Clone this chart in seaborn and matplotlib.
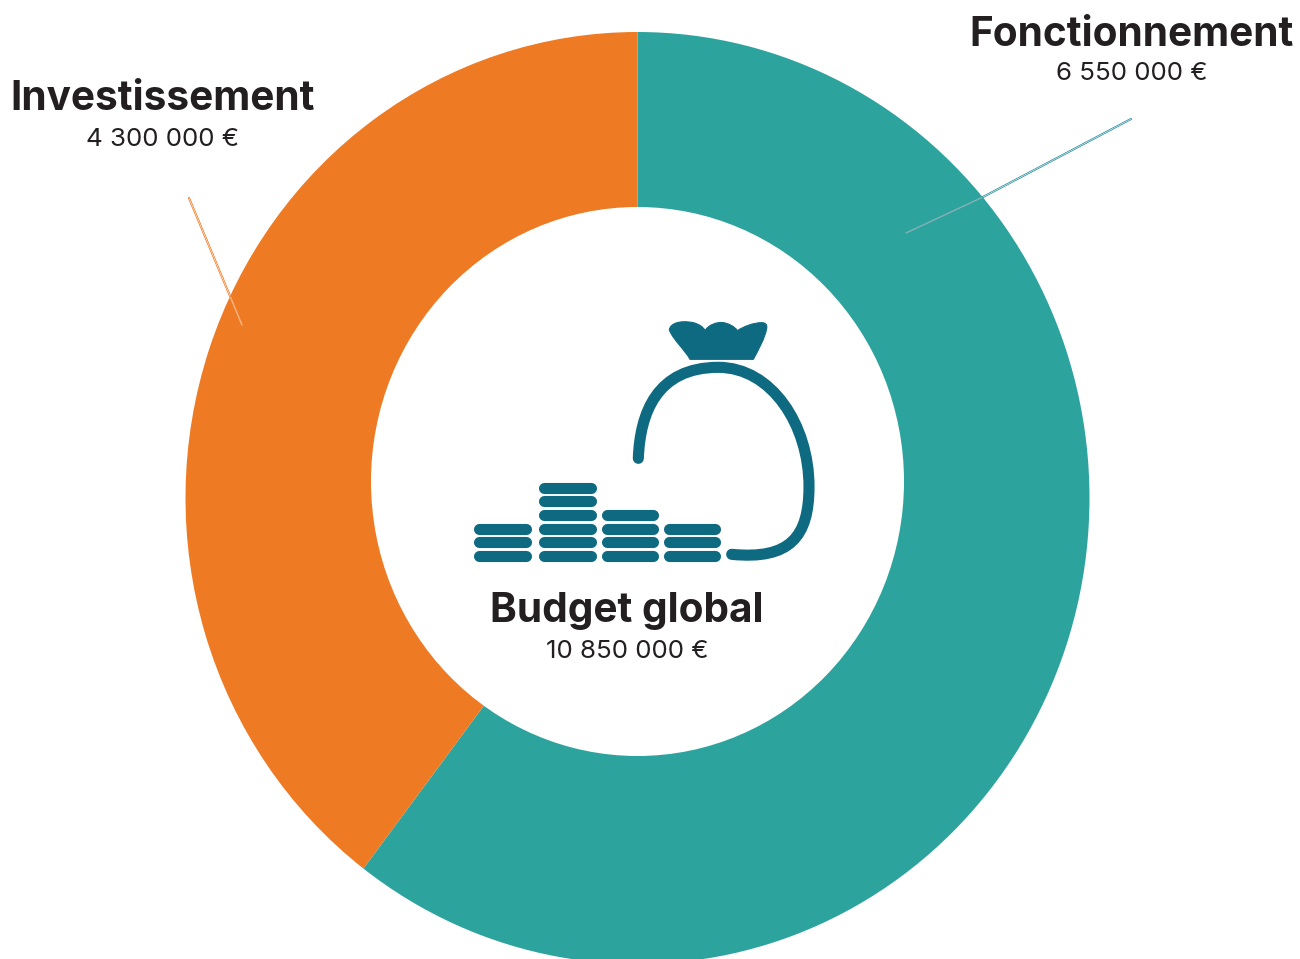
"""Budget donut: Fonctionnement / Investissement, money bag icon in the hole."""

import matplotlib
matplotlib.use("Agg")
import matplotlib.pyplot as plt
import seaborn as sns
from matplotlib.patches import Ellipse, PathPatch
from matplotlib.path import Path

W, H = 1300, 959

categories = ["Fonctionnement", "Investissement"]
values = [6550000, 4300000]
value_labels = ["6 550 000 €", "4 300 000 €"]
total_name = "Budget global"
total_label = "10 850 000 €"
colors = ["#2da39e", "#ee7a24"]
ICON = "#0e6a80"

sns.set_theme(style="white")
plt.rcParams["font.family"] = ["Inter", "DejaVu Sans"]

fig = plt.figure(figsize=(W / 100, H / 100), dpi=100, facecolor="white")

# ── ring ──────────────────────────────────────────────────────────────────────
cx, cy, rx, ry = 637.5, 498, 452, 466
ax_pie = fig.add_axes([(cx - rx) / W, 1 - (cy + ry) / H, 2 * rx / W, 2 * ry / H])
wedges, _ = ax_pie.pie(values, colors=sns.color_palette(colors), startangle=90,
                       counterclock=False, radius=1,
                       wedgeprops={"linewidth": 0, "edgecolor": "none"})
ax_pie.set_aspect("auto")
ax_pie.set_xlim(-1, 1)
ax_pie.set_ylim(-1, 1)
for w in wedges:
    w.set_clip_on(False)

# overlay in pixel coordinates for hole, icon and labels
ax = fig.add_axes([0, 0, 1, 1])
ax.set_xlim(0, W)
ax.set_ylim(H, 0)
ax.axis("off")
ax.patch.set_alpha(0)
ax.add_patch(Ellipse((637.5, 481.5), 533, 549, fc="white", ec="none"))

# ── leader lines (double stroke, fainter inside the ring) ─────────────────────
leaders = [
    ((1131, 119), (983, 197), (906, 233), "#2b8fa0", "#7fb0b4"),
    ((189, 198), (230, 296), (242, 325), "#ee7a24", "#f6b27e"),
]
for start, edge, end, col, faint in leaders:
    ax.plot([edge[0], end[0]], [edge[1], end[1]], color=faint, lw=1.1)
    ax.plot([start[0], edge[0]], [start[1], edge[1]], color=col, lw=1.5)
    ax.plot([start[0], edge[0]], [start[1], edge[1]], color="white", lw=0.4)

# ── coins ─────────────────────────────────────────────────────────────────────
coin_x = [(473, 532), (538, 597), (601, 659), (663, 721)]
coin_counts = [3, 6, 4, 3]
coin_rows = [556, 541.8, 528.5, 514.7, 501, 487.6]
for (x0, x1), n in zip(coin_x, coin_counts):
    for y in coin_rows[:n]:
        ax.plot([x0 + 5.6, x1 - 5.6], [y, y], color=ICON, lw=8.0,
                solid_capstyle="round")


def zoomed(x, y):
    return 460 + x / 3, 310 + y / 3


# ── bag ───────────────────────────────────────────────────────────────────────
bag_pts = [(535, 445), (540, 310), (590, 172), (775, 172),
           (935, 172), (1047, 345), (1047, 530),
           (1047, 680), (990, 750), (815, 733)]
bag_codes = [Path.MOVETO] + [Path.CURVE4] * 9
ax.add_patch(PathPatch(Path([zoomed(*p) for p in bag_pts], bag_codes), fc="none",
                       ec=ICON, lw=8.0, capstyle="round"))

tie_pts = [(628, 60),
           (630, 40), (660, 30), (700, 38),
           (715, 42), (730, 50), (735, 62),
           (745, 45), (770, 35), (790, 38),
           (805, 40), (825, 50), (832, 62),
           (850, 50), (880, 38), (905, 38),
           (918, 38), (922, 45), (920, 55),
           (915, 85), (895, 120), (880, 148),
           (690, 148),
           (675, 120), (640, 90), (628, 60),
           (628, 60)]
tie_codes = ([Path.MOVETO] + [Path.CURVE4] * 21 + [Path.LINETO]
             + [Path.CURVE4] * 3 + [Path.CLOSEPOLY])
ax.add_patch(PathPatch(Path([zoomed(*p) for p in tie_pts], tie_codes), fc=ICON, ec=ICON,
                       lw=0.8, joinstyle="round"))

# ── labels ────────────────────────────────────────────────────────────────────
TXT = "#231f20"
label_pos = [(1132, 35, 74), (163, 99, 139)]
for name, val, (x, y_name, y_val) in zip(categories, value_labels, label_pos):
    ax.text(x, y_name, name, ha="center", va="center", fontsize=29.2,
            fontweight="bold", color=TXT)
    ax.text(x, y_val, val, ha="center", va="center", fontsize=18.7, color=TXT)
ax.text(627, 611, total_name, ha="center", va="center", fontsize=29.2,
        fontweight="bold", color=TXT)
ax.text(627, 651, total_label, ha="center", va="center", fontsize=18.7, color=TXT)

fig.savefig("out.png", dpi=100)
plt.close(fig)
